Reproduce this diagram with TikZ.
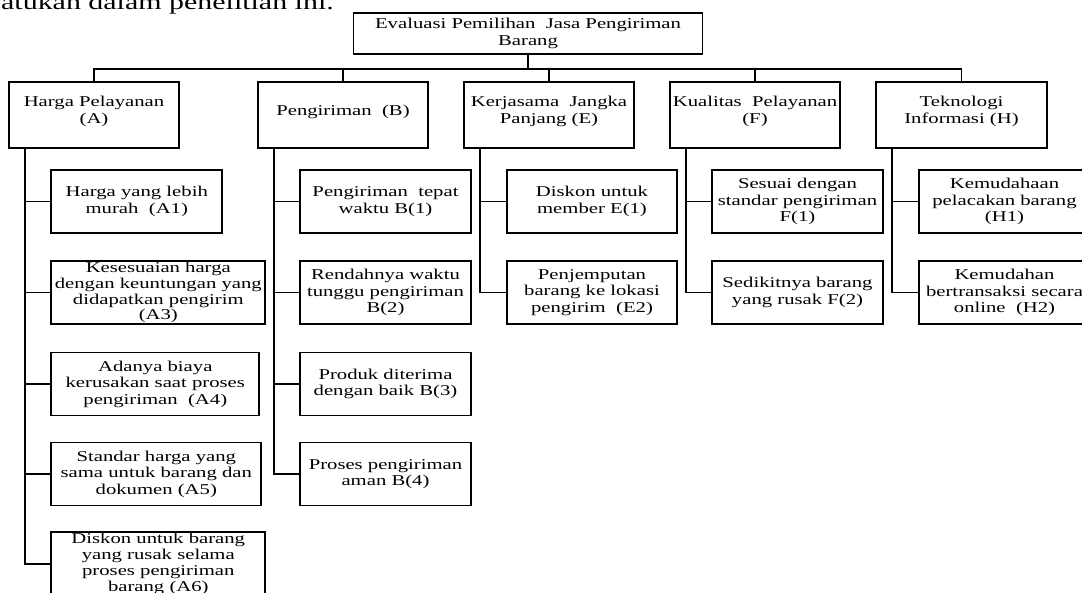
\documentclass[tikz,border=0pt]{standalone}
\usepackage{fontspec}
\setmainfont{Liberation Serif}[FakeStretch=1.38]
\begin{document}
\begin{tikzpicture}[x=1pt,y=-1pt,
  box/.style={draw, line width=1.9pt, inner sep=0pt, align=center,
    minimum height=63pt, font=\fontsize{15}{16.5}\selectfont},
  tightbox/.style={box, font=\fontsize{15}{15.8}\selectfont},
  topbox/.style={draw, line width=1.9pt, inner sep=0pt,
    minimum width=170.5pt, minimum height=66.4pt},
  toptext/.style={align=center, inner sep=0pt, font=\fontsize{15}{17}\selectfont},
  link/.style={draw, line width=1.9pt, line join=miter}]
\fill[white] (0,0) rectangle (1082,593);
\useasboundingbox (0,0) rectangle (1082,593);
\clip (0,0) rectangle (1082,593);

% partial sentence above the chart
\node[anchor=base east, inner sep=0pt, font=\fontsize{21.7}{26}\selectfont] (intro) at (334,10) {atukan dalam penelitian ini.};

% root
\node[box, minimum width=349pt, minimum height=41pt] (root) at (528,33.5) {Evaluasi Pemilihan\ \ Jasa Pengiriman\\Barang};

% level 1
\node[topbox] (A) at (94,114.8) {};
\node[toptext] (tA) at (94,111.5) {Harga Pelayanan\\(A)};
\node[topbox] (B) at (343,114.8) {};
\node[toptext] (tB) at (343,111.5) {Pengiriman\ \ (B)};
\node[topbox] (E) at (549,114.8) {};
\node[toptext] (tE) at (549,111.5) {Kerjasama\ \ Jangka\\Panjang (E)};
\node[topbox] (F) at (755,114.8) {};
\node[toptext] (tF) at (755,111.5) {Kualitas\ \ Pelayanan\\(F)};
\node[topbox] (H) at (961.5,114.8) {};
\node[toptext] (tH) at (961.5,111.5) {Teknologi\\Informasi (H)};

% A children
\node[box, minimum width=171pt] (A1) at (136.8,201.5) {Harga yang lebih\\murah\ \ (A1)};
\node[tightbox, minimum width=214pt] (A3) at (158.3,292.5) {Kesesuaian harga\\dengan keuntungan yang\\didapatkan pengirim\\(A3)};
\node[box, minimum width=208pt] (A4) at (155.3,384) {Adanya biaya\\kerusakan saat proses\\pengiriman\ \ (A4)};
\node[box, minimum width=210pt] (A5) at (156.3,474) {Standar harga yang\\sama untuk barang dan\\dokumen (A5)};
\node[tightbox, minimum width=214pt, minimum height=64pt] (A6) at (158.3,564) {Diskon untuk barang\\yang rusak selama\\proses pengiriman\\barang (A6)};

% B children
\node[box, minimum width=171pt] (B1) at (385.5,201.5) {Pengiriman\ \ tepat\\waktu B(1)};
\node[box, minimum width=171pt] (B2) at (385.5,292.5) {Rendahnya waktu\\tunggu pengiriman\\B(2)};
\node[box, minimum width=171pt] (B3) at (385.5,384) {Produk diterima\\dengan baik B(3)};
\node[box, minimum width=171pt] (B4) at (385.5,474) {Proses pengiriman\\aman B(4)};

% E children
\node[box, minimum width=170pt] (E1) at (592,201.5) {Diskon untuk\\member E(1)};
\node[box, minimum width=170pt] (E2) at (592,292.5) {Penjemputan\\barang ke lokasi\\pengirim\ \ (E2)};

% F children
\node[box, minimum width=171pt] (F1) at (797.5,201.5) {Sesuai dengan\\standar pengiriman\\F(1)};
\node[box, minimum width=171pt] (F2) at (797.5,292.5) {Sedikitnya barang\\yang rusak F(2)};

% H children
\node[box, minimum width=171pt] (H1) at (1004.5,201.5) {Kemudahaan\\pelacakan barang\\(H1)};
\node[box, minimum width=171pt] (H2) at (1004.5,292.5) {Kemudahan\\bertransaksi secara\\online\ \ (H2)};

% bus
\coordinate (busy) at (0,69);
\draw[link] (root.south) -- (root.south |- busy);
\draw[link] (A.north) -- (A.north |- busy) -- (H.north |- busy) -- (H.north);
\draw[link] (B.north) -- (B.north |- busy);
\draw[link] (E.north) -- (E.north |- busy);
\draw[link] (F.north) -- (F.north |- busy);

% spines
\coordinate (As) at ([xshift=17pt]A.south west);
\coordinate (Bs) at ([xshift=17pt]B.south west);
\coordinate (Es) at ([xshift=17pt]E.south west);
\coordinate (Fs) at ([xshift=17pt]F.south west);
\coordinate (Hs) at ([xshift=17pt]H.south west);

\draw[link] (As) |- (A6.west);
\draw[link] (A1.west -| As) -- (A1.west);
\draw[link] (A3.west -| As) -- (A3.west);
\draw[link] (A4.west -| As) -- (A4.west);
\draw[link] (A5.west -| As) -- (A5.west);

\draw[link] (Bs) |- (B4.west);
\draw[link] (B1.west -| Bs) -- (B1.west);
\draw[link] (B2.west -| Bs) -- (B2.west);
\draw[link] (B3.west -| Bs) -- (B3.west);

\draw[link] (Es) |- (E2.west);
\draw[link] (E1.west -| Es) -- (E1.west);

\draw[link] (Fs) |- (F2.west);
\draw[link] (F1.west -| Fs) -- (F1.west);

\draw[link] (Hs) |- (H2.west);
\draw[link] (H1.west -| Hs) -- (H1.west);
\end{tikzpicture}
\end{document}
